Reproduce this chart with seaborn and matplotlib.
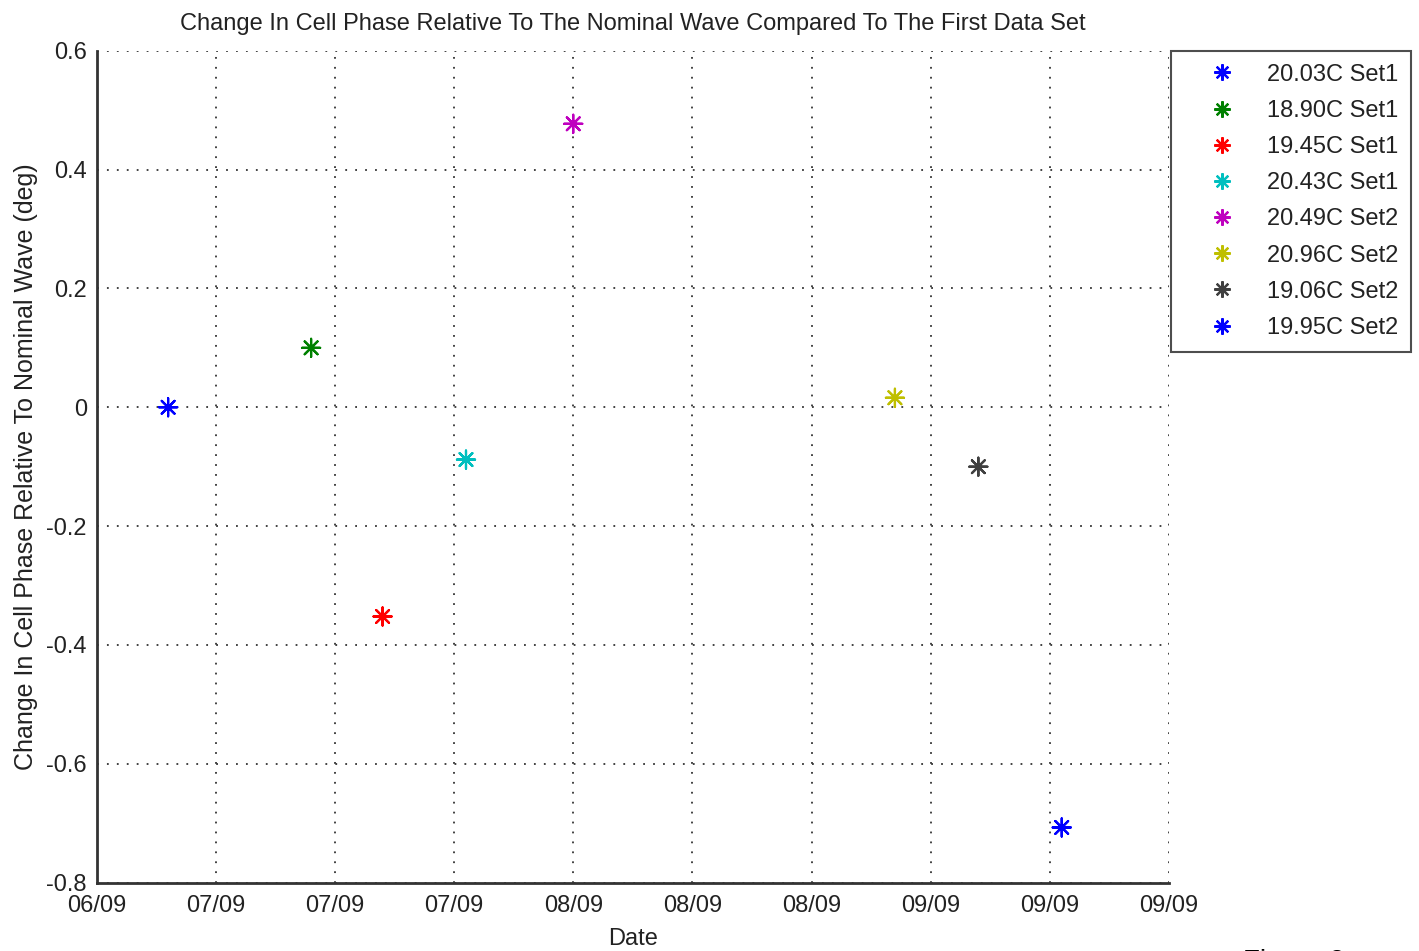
"""
Recreate the MATLAB-style cell phase change scatter chart.
"""

import matplotlib

matplotlib.use("Agg")

import matplotlib.dates as mdates
import matplotlib.pyplot as plt
import pandas as pd
import seaborn as sns
from matplotlib import font_manager

# data
LABELS = [
    "20.03C Set1",
    "18.90C Set1",
    "19.45C Set1",
    "20.43C Set1",
    "20.49C Set2",
    "20.96C Set2",
    "19.06C Set2",
    "19.95C Set2",
]
DATES = [
    "2009-07-01",
    "2009-07-13",
    "2009-07-19",
    "2009-07-26",
    "2009-08-04",
    "2009-08-31",
    "2009-09-07",
    "2009-09-14",
]
PHASE = [0.0, 0.100, -0.352, -0.088, 0.477, 0.016, -0.100, -0.707]
COLORS = ["#0000ff", "#008000", "#ff0000", "#00bfbf", "#bf00bf", "#bfbf00", "#404040", "#0000ff"]

X_START = "2009-06-25"
X_TICK_STEP = "10D"
N_XTICKS = 10
Y_TICKS = [-0.8, -0.6, -0.4, -0.2, 0, 0.2, 0.4, 0.6]
Y_TICK_LABELS = ["-0.8", "-0.6", "-0.4", "-0.2", "0", "0.2", "0.4", "0.6"]

TEXT = "#222222"

sns.set_style("white")
names = {f.name for f in font_manager.fontManager.ttflist}
NARROW = "Liberation Sans Narrow" if "Liberation Sans Narrow" in names else "Liberation Sans"
plt.rcParams["font.family"] = [NARROW, "DejaVu Sans"]

df = pd.DataFrame({"label": LABELS, "date": pd.to_datetime(DATES), "phase": PHASE})

fig = plt.figure(figsize=(14.19, 9.51), dpi=100)
ax = fig.add_axes([0.0681, 0.0718, 0.7557, 0.8749])

sns.scatterplot(
    data=df,
    x="date",
    y="phase",
    hue="label",
    hue_order=LABELS,
    palette=COLORS,
    marker=(8, 2, 0),
    s=170,
    linewidth=1.6,
    ax=ax,
    zorder=3,
)

xticks = pd.date_range(X_START, periods=N_XTICKS, freq=X_TICK_STEP)
ax.set_xlim(xticks[0], xticks[-1])
ax.set_xticks(xticks)
ax.xaxis.set_major_formatter(mdates.DateFormatter("%m/%y"))
ax.set_ylim(Y_TICKS[0], Y_TICKS[-1])
ax.set_yticks(Y_TICKS)
ax.set_yticklabels(Y_TICK_LABELS)

ax.grid(True, linestyle=(0, (1, 4.5)), color="#333333", linewidth=1.3)
for side in ["top", "right"]:
    ax.spines[side].set_visible(False)
for side in ["left", "bottom"]:
    ax.spines[side].set_color("#333333")
    ax.spines[side].set_linewidth(2)
ax.tick_params(direction="in", length=10, width=1.5, colors="#333333",
               labelcolor=TEXT, labelsize=17)
ax.tick_params(axis="x", pad=9)
ax.tick_params(axis="y", pad=7)

ax.set_title("Change In Cell Phase Relative To The Nominal Wave Compared To The First Data Set",
             fontsize=17, color=TEXT, pad=15)
ax.set_xlabel("Date", fontsize=17, color=TEXT, labelpad=8)
ax.set_ylabel("Change In Cell Phase Relative To Nominal Wave (deg)", fontsize=18,
              color=TEXT, labelpad=6)

leg = ax.legend(
    loc="upper left",
    bbox_to_anchor=(1.002, 1.0),
    borderaxespad=0,
    frameon=True,
    fancybox=False,
    edgecolor="#222222",
    fontsize=17,
    handletextpad=0.3,
    borderpad=0.55,
    labelspacing=0.6,
    handlelength=3.2,
    markerscale=0.9,
)
leg.get_frame().set_linewidth(1.5)
for t in leg.get_texts():
    t.set_color(TEXT)

fig.text(0.876, 1 - 949 / 951, "Figure 2", va="top", ha="left", fontsize=20,
         family=["Liberation Sans", "DejaVu Sans"], color="black")

fig.savefig("out.png", dpi=100)
